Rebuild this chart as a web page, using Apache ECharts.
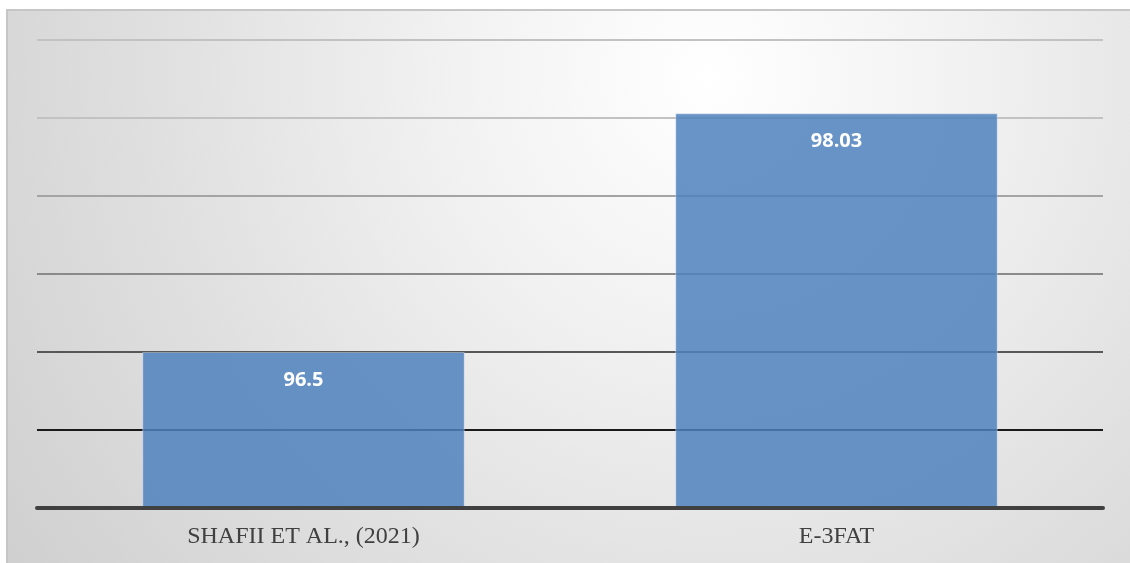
<!DOCTYPE html>
<html>
<head>
<meta charset="utf-8">
<style>
  html, body { margin: 0; padding: 0; background: #ffffff; }
  #chart { width: 1130px; height: 563px; }
</style>
<script src="https://cdn.jsdelivr.net/npm/echarts@6/dist/echarts.min.js"></script>
</head>
<body>
<div id="chart"></div>
<script>
// Accuracy comparison: prior work vs. the proposed method
const categories = ['SHAFII ET AL., (2021)', 'E-3FAT'];
const accuracy = [96.5, 98.03];

// Value axis range (ticks every 0.5, labels hidden)
const axisMin = 95.5;
const axisMax = 98.5;
const axisStep = 0.5;

// Grid line shades, from the lowest tick upward
const gridShades = ['#404040', '#1a1a1a', '#575757', '#8a8a8a', '#a4a4a4', '#c2c2c2', '#c2c2c2'];

const chart = echarts.init(document.getElementById('chart'), null, { renderer: 'canvas' });

chart.setOption({
  animation: false,
  backgroundColor: '#ffffff',
  graphic: [{
    type: 'rect',
    z: -10,
    silent: true,
    shape: { x: 7, y: 10, width: 1130, height: 560 },
    style: {
      fill: new echarts.graphic.RadialGradient(0.62, 0.12, 1.5, [
        { offset: 0, color: '#ffffff' },
        { offset: 0.3, color: '#f2f2f2' },
        { offset: 0.65, color: '#e0e0e0' },
        { offset: 1, color: '#d0d0d0' }
      ]),
      stroke: '#c6c6c6',
      lineWidth: 2
    }
  }],
  grid: { left: 37, right: 27, top: 40, bottom: 55, containLabel: false },
  xAxis: {
    type: 'category',
    data: categories,
    axisTick: { show: false },
    axisLine: { show: true, lineStyle: { color: '#404040', width: 4 } },
    axisLabel: {
      margin: 17,
      color: '#404040',
      fontFamily: 'Liberation Serif',
      fontSize: 24
    },
    z: 5
  },
  yAxis: {
    type: 'value',
    min: axisMin,
    max: axisMax,
    interval: axisStep,
    axisLabel: { show: false },
    axisLine: { show: false },
    axisTick: { show: false },
    splitLine: { show: true, lineStyle: { color: gridShades, width: 2 } }
  },
  series: [{
    type: 'bar',
    data: accuracy,
    barCategoryGap: '39.5%',
    z: 3,
    itemStyle: {
      color: 'rgba(79,129,189,0.85)',
      borderColor: 'rgba(255,255,255,0.35)',
      borderWidth: 1
    },
    label: {
      show: true,
      position: 'insideTop',
      distance: 18,
      color: '#ffffff',
      fontFamily: 'Open Sans',
      fontWeight: 'bold',
      fontSize: 20
    }
  }]
});
</script>
</body>
</html>
